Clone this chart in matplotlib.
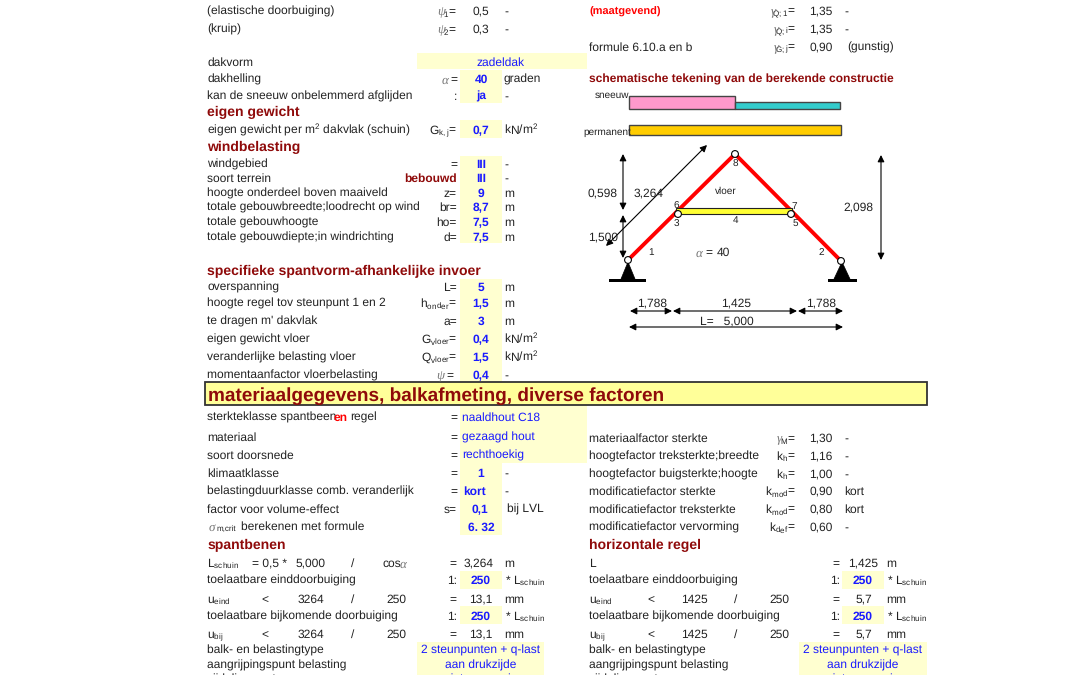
import matplotlib
matplotlib.use('Agg')
import matplotlib.pyplot as plt
from matplotlib.patches import Rectangle, Circle, Polygon

plt.rcParams['font.family'] = ['Liberation Sans', 'DejaVu Sans']
plt.rcParams['mathtext.fontset'] = 'custom'
plt.rcParams['mathtext.rm'] = 'Liberation Sans'
plt.rcParams['mathtext.it'] = 'Liberation Sans'
plt.rcParams['mathtext.bf'] = 'Liberation Sans:bold'
plt.rcParams['mathtext.default'] = 'regular'
plt.rcParams['text.hinting'] = 'no_hinting'
plt.rcParams['text.hinting_factor'] = 1

DARK = '#222222'; BLUE = '#1a1aff'; RED = '#8f0a0a'; CELL = '#ffffd0'
FS = 8.44

# (y, text)
left_labels = [(10, '(elastische doorbuiging)'), (28, '(kruip)'), (61, 'dakvorm'), (78, 'dakhelling'),
    (95, 'kan de sneeuw onbelemmerd afglijden'), (129, 'eigen gewicht per m$^{2}$ dakvlak (schuin)'),
    (163, 'windgebied'), (177, 'soort terrein'), (192, 'hoogte onderdeel boven maaiveld'),
    (206, 'totale gebouwbreedte;loodrecht op wind'), (221, 'totale gebouwhoogte'),
    (236, 'totale gebouwdiepte;in windrichting'), (286, 'overspanning'),
    (302, 'hoogte regel tov steunpunt 1 en 2'), (320, "te dragen m' dakvlak"), (338, 'eigen gewicht vloer'),
    (356, 'veranderlijke belasting vloer'), (374, 'momentaanfactor vloerbelasting'),
    (436, 'materiaal'), (454, 'soort doorsnede'), (472, 'klimaatklasse'),
    (490, 'belastingduurklasse comb. veranderlijk'), (508, 'factor voor volume-effect'),
    (562, 'L$_{schuin}$'), (579, 'toelaatbare einddoorbuiging'), (598, 'u$_{eind}$'),
    (615, 'toelaatbare bijkomende doorbuiging'), (633, 'u$_{bij}$'),
    (649, 'balk- en belastingtype'), (664, 'aangrijpingspunt belasting'), (678, 'zijdelingse steun')]
right_labels = [(46, 'formule 6.10.a en b'), (437, 'materiaalfactor sterkte'),
    (455, 'hoogtefactor treksterkte;breedte'), (473, 'hoogtefactor buigsterkte;hoogte'),
    (490, 'modificatiefactor sterkte'), (508, 'modificatiefactor treksterkte'),
    (526, 'modificatiefactor vervorming'), (562, 'L'), (579, 'toelaatbare einddoorbuiging'),
    (598, 'u$_{eind}$'), (615, 'toelaatbare bijkomende doorbuiging'), (633, 'u$_{bij}$'),
    (649, 'balk- en belastingtype'), (664, 'aangrijpingspunt belasting'), (678, 'zijdelingse steun')]
headers = [(207, 111, 'eigen gewicht'), (207, 146, 'windbelasting'), (207, 270, 'specifieke spantvorm-afhankelijke invoer'),
    (207, 544, 'spantbenen'), (589, 544, 'horizontale regel')]
left_symbols = [(10, '$_{1}$='), (28, '$_{2}$='), (78, '='), (95, ':'), (129, 'G$_{k,j}$='), (163, '='),
    (192, 'z='), (206, 'br='), (221, 'ho='), (236, 'd='), (286, 'L='), (302, 'h$_{onder}$='),
    (320, 'a='), (338, 'G$_{vloer}$='), (356, 'Q$_{vloer}$='), (416, '='), (436, '='), (454, '='),
    (472, '='), (490, '='), (508, 's='), (579, '1:'), (615, '1:')]
right_symbols = [(10, '$_{Q;1}$='), (28, '$_{Q;i}$='), (46, '$_{G;j}$='), (437, '$_{M}$='), (455, 'k$_{h}$='),
    (473, 'k$_{h}$='), (490, 'k$_{mod}$='), (508, 'k$_{mod}$='), (526, 'k$_{def}$=')]
greek = [(441, 10, 'ψ'), (441, 28, 'ψ'), (445, 78, 'α'), (440, 374, 'ψ'), (212, 526, 'σ'), (403, 562, 'α'),
    (773, 10, 'γ'), (776, 28, 'γ'), (776, 46, 'γ'), (779, 437, 'γ'), (699, 251, 'α')]
plain_values = [(481, 10, '0,5'), (481, 28, '0,3')]
input_values = [(481, 78, '40'), (481, 95, 'ja'), (481, 129, '0,7'), (481, 163, 'III'), (481, 177, 'III'), (481, 192, '9'),
    (481, 206, '8,7'), (481, 221, '7,5'), (481, 236, '7,5'), (481, 286, '5'), (481, 302, '1,5'), (481, 320, '3'),
    (481, 338, '0,4'), (481, 356, '1,5'), (481, 374, '0,4'), (481, 472, '1'), (474, 490, 'kort'), (480, 508, '0,1'),
    (481, 526, '6. 32'), (481, 579, '250'), (481, 615, '250'), (863, 579, '250'), (863, 615, '250')]
blue_text = [(501, 61, 'zadeldak', 'center'), (462, 416, 'naaldhout C18', 'left'), (462, 436, 'gezaagd hout', 'left'),
    (462, 454, 'rechthoekig', 'left'), (481, 649, '2 steunpunten + q-last', 'center'), (481, 664, 'aan drukzijde', 'center'),
    (481, 678, 'niet aanwezig', 'center'), (863, 649, '2 steunpunten + q-last', 'center'), (863, 664, 'aan drukzijde', 'center'),
    (863, 678, 'niet aanwezig', 'center')]
units = [(504, 10, '-'), (504, 28, '-'), (504, 78, 'graden'), (504, 95, '-'), (504, 129, 'kN/m$^{2}$'), (504, 163, '-'), (504, 177, '-'),
    (504, 192, 'm'), (504, 206, 'm'), (504, 221, 'm'), (504, 236, 'm'), (504, 286, 'm'), (504, 302, 'm'), (504, 320, 'm'),
    (504, 338, 'kN/m$^{2}$'), (504, 356, 'kN/m$^{2}$'), (504, 374, '-'), (504, 472, '-'), (504, 490, '-'), (507, 508, 'bij LVL'),
    (504, 562, 'm'), (505, 579, '* L$_{schuin}$'), (504, 598, 'mm'), (505, 615, '* L$_{schuin}$'), (504, 633, 'mm'),
    (844, 10, '-'), (844, 28, '-'), (847, 46, '(gunstig)'), (844, 437, '-'), (844, 455, '-'), (844, 473, '-'),
    (844, 490, 'kort'), (844, 508, 'kort'), (844, 526, '-'), (886, 562, 'm'), (887, 579, '* L$_{schuin}$'), (886, 598, 'mm'),
    (887, 615, '* L$_{schuin}$'), (886, 633, 'mm')]
right_values = [(821, 10, '1,35'), (821, 28, '1,35'), (821, 46, '0,90'), (821, 437, '1,30'), (821, 455, '1,16'), (821, 473, '1,00'),
    (821, 490, '0,90'), (821, 508, '0,80'), (821, 526, '0,60'), (863, 562, '1,425'), (864, 598, '5,7'), (864, 633, '5,7'),
    (479, 562, '3,264'), (481, 598, '13,1'), (481, 633, '13,1'), (835, 579, '1:'), (835, 615, '1:')]
formula_cells = [(252, 562, '= 0,5 *', 'left'), (311, 562, '5,000', 'center'), (353, 562, '/', 'center'), (382, 562, 'cos', 'left'),
    (453, 562, '=', 'center'), (265, 598, '<', 'center'), (311, 598, '3264', 'center'), (353, 598, '/', 'center'), (396, 598, '250', 'center'),
    (453, 598, '=', 'center'), (265, 633, '<', 'center'), (311, 633, '3264', 'center'), (353, 633, '/', 'center'), (396, 633, '250', 'center'),
    (453, 633, '=', 'center'), (651, 598, '<', 'center'), (694, 598, '1425', 'center'), (736, 598, '/', 'center'), (779, 598, '250', 'center'),
    (836, 562, '=', 'center'), (836, 598, '=', 'center'), (651, 633, '<', 'center'), (694, 633, '1425', 'center'), (736, 633, '/', 'center'),
    (779, 633, '250', 'center'), (836, 633, '=', 'center'), (450, 374, '=', 'center')]
yellow_cells = [(417, 53, 170, 16), (460, 70, 42, 33), (460, 120, 42, 18), (460, 156, 42, 87), (460, 279, 42, 103),
    (460, 405, 127, 58), (460, 463, 42, 72), (460, 571, 42, 18), (460, 606, 42, 18), (842, 571, 42, 18), (842, 606, 42, 18),
    (417, 642, 127, 33), (799, 642, 128, 33)]
load_bars = [(629, 96, 106, 13, '#ff99cc'), (735, 102, 105, 7, '#33cccc'), (629, 125, 212, 10, '#ffcc00')]
truss_apex = (735, 154); truss_supports = [(628, 260), (841, 261)]
hinges = [(628, 260), (678, 214), (791, 214), (735, 154), (841, 261)]
support_tris = [(621, 635, 628), (834, 850, 842)]
support_bases = [(609, 646), (828, 857)]
dim_arrows = [((623, 154), (623, 210)), ((623, 215), (623, 258)), ((606, 246), (707, 145)), ((881, 155), (881, 260)),
    ((630, 311), (672, 311)), ((673, 311), (797, 311)), ((798, 311), (843, 311)), ((629, 327), (843, 327))]
drawing_big = [(603, 192, '0,598'), (649, 192, '3,264'), (603, 236, '1,500'), (858, 206, '2,098'), (652, 302, '1,788'),
    (736, 302, '1,425'), (821, 302, '1,788'), (727, 320, 'L=   5,000'), (709, 251, '='), (723, 251, '40')]
drawing_small = [(726, 190, 'vloer'), (676, 205, '6'), (794, 205, '7'), (676, 223, '3'), (795, 222, '5'), (736, 219, '4'),
    (735, 163, '8'), (651, 251, '1'), (821, 251, '2')]

fig = plt.figure(figsize=(10.8, 6.75), dpi=100, facecolor='white')
ax = fig.add_axes([0, 0, 1, 1])
ax.set_xlim(0, 1080); ax.set_ylim(675, 0); ax.axis('off')

def T(x, y, s, ha='left', c=DARK, fs=FS, w='normal', **k):
    off = fs * 0.48 + (0.8 if fs < 9.6 else 0)
    ax.text(x, y + off, s, ha=ha, va='baseline', color=c, fontsize=fs, fontweight=w, clip_on=True, **k)

for x, y, w, h in yellow_cells:
    ax.add_patch(Rectangle((x, y), w, h, fc=CELL, ec='none', zorder=0))
ax.add_patch(Rectangle((205, 382), 722, 23, fc='#ffff99', ec='#333333', lw=1.3, zorder=1))
T(208, 394, 'materiaalgegevens, balkafmeting, diverse factoren', c=RED, fs=13.64, w='bold')

for y, s in left_labels: T(207, y, s)
for y, s in right_labels: T(589, y, s)
for x, y, s in headers: T(x, y, s, c=RED, fs=10.1, w='bold')
for y, s in left_symbols: T(457, y, s, ha='right')
for y, s in right_symbols: T(796, y, s, ha='right')
for x, y, s in greek:
    T(x, y, s, ha='center', c='#777777', fs=9.5, family='Liberation Serif', style='italic')
for x, y, s in plain_values: T(x, y, s, ha='center')
for x, y, s in input_values: T(x, y, s, ha='center', c=BLUE, w='bold', fs=8.6)
for x, y, s, ha in blue_text: T(x, y, s, ha=ha, c=BLUE)
for x, y, s in units: T(x, y, s)
for x, y, s in right_values: T(x, y, s, ha='center')
for x, y, s, ha in formula_cells: T(x, y, s, ha=ha)

T(207, 416, 'sterkteklasse spantbeen'); T(334, 416, 'en', c='#ff0000', w='bold'); T(350, 416, 'regel')
T(457, 177, 'bebouwd', ha='right', c=RED, w='bold')
T(589, 10, '(maatgevend)', c='#ff0000', w='bold', fs=8.2)
T(589, 78, 'schematische tekening van de berekende constructie', c=RED, w='bold', fs=8.6)
T(216, 527, 'm,crit', fs=5.8); T(241, 525, 'berekenen met formule')
T(595, 94, 'sneeuw', fs=6.9); T(583, 131, 'permanent', fs=6.9)

for x, y, w, h, col in load_bars:
    ax.add_patch(Rectangle((x, y), w, h, fc=col, ec='#444444', lw=1, zorder=2))
for s in truss_supports:
    ax.plot([s[0], truss_apex[0]], [s[1], truss_apex[1]], color='#ff0000', lw=2.8, zorder=3, solid_capstyle='butt')
ax.add_patch(Rectangle((676, 208), 116, 6, fc='#ffff33', ec='#222222', lw=0.8, zorder=4))
for (a, b, apex) in support_tris:
    ax.add_patch(Polygon([(a, 279), (b, 279), (apex, 262)], fc='black', ec='black', lw=0.5, zorder=3))
for a, b in support_bases:
    ax.add_patch(Rectangle((a, 279), b - a, 3, fc='black', ec='none', zorder=3))
for x, y in hinges:
    ax.add_patch(Circle((x, y), 3.4, fc='white', ec='black', lw=0.8, zorder=5))
for p, q in dim_arrows:
    ax.annotate('', xy=q, xytext=p, arrowprops=dict(arrowstyle='<|-|>', color='black', lw=0.8, mutation_scale=10,
                shrinkA=0, shrinkB=0), zorder=6)
for x, y, s in drawing_big: T(x, y, s, ha='center', zorder=7)
for x, y, s in drawing_small: T(x, y, s, ha='center', fs=7.2, zorder=7)

fig.savefig('out.png', dpi=100)
